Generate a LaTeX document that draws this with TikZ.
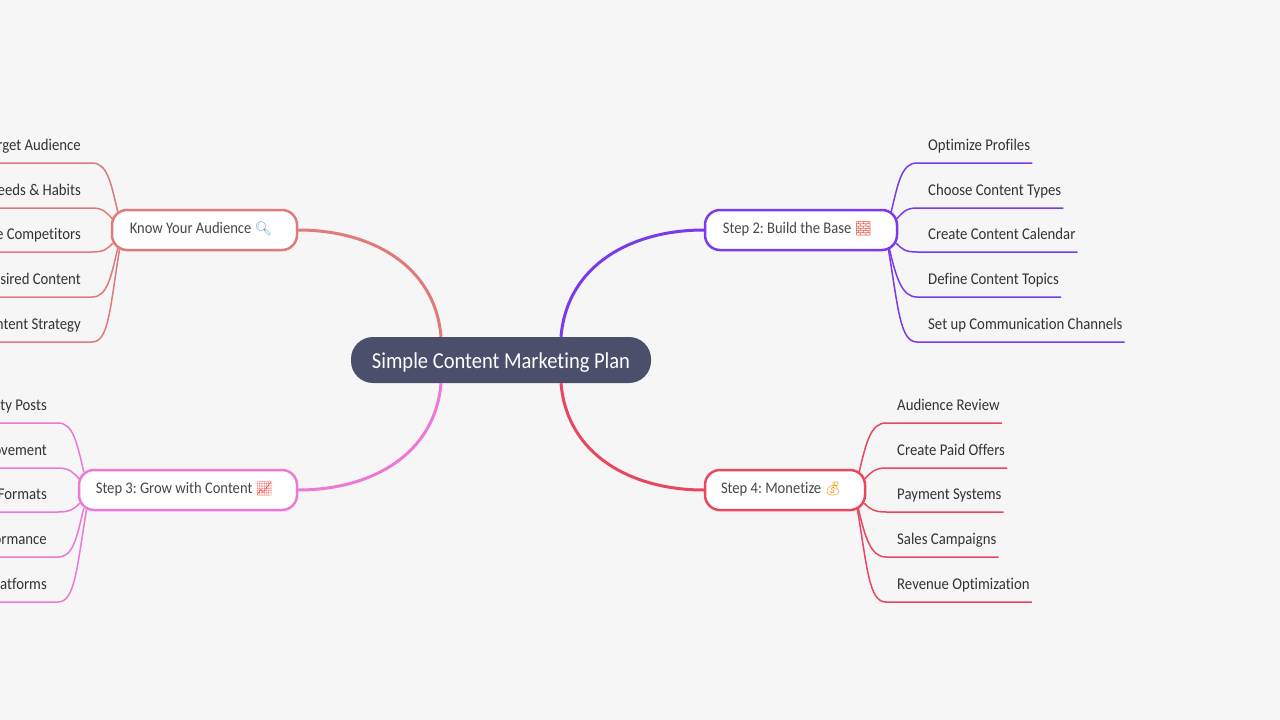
\documentclass[tikz,border=0pt]{standalone}
\usepackage{fontspec}
\setmainfont[FakeStretch=0.9,Ligatures=NoCommon]{Carlito}
\newfontfamily\emojifont[Scale=0.85]{Noto Emoji}
\usetikzlibrary{calc}
\definecolor{pagebg}{HTML}{F6F6F6}
\definecolor{rootfill}{HTML}{4C4F6B}
\definecolor{inktext}{HTML}{333333}
\definecolor{knowcol}{HTML}{E07B7B}
\definecolor{basecol}{HTML}{7C3AED}
\definecolor{growcol}{HTML}{EE78D5}
\definecolor{moneycol}{HTML}{E8475F}
\tikzset{
  rootbox/.style={fill=rootfill, text=white, rounded corners=22pt, minimum width=300pt, minimum height=46pt,
    inner sep=0pt, text height=22pt, text depth=6pt, font=\fontsize{22.8}{26}\selectfont},
  stepbox/.style={draw, fill=white, line width=2.5pt, rounded corners=15pt, minimum height=40pt, inner sep=0pt,
    text height=14pt, text depth=7pt, text=inktext!90, font=\fontsize{16.2}{20}\selectfont\frenchspacing,
    execute at end node=\hspace*{7pt}},
  leafbase/.style={inner xsep=0pt, inner ysep=0pt, text height=13pt, text depth=12pt, text=inktext,
    font=\fontsize{16.4}{20}\selectfont},
  leafright/.style={leafbase, anchor=south west, execute at begin node=\hspace*{11pt}, execute at end node=\hspace*{2pt}},
  leafleft/.style={leafbase, anchor=south east, execute at end node=\hspace*{11pt}},
  trunk/.style={line width=3pt},
  twig/.style={line width=1.5pt}
}
\begin{document}
\begin{tikzpicture}[x=1pt,y=-1pt]
\fill[pagebg] (0,0) rectangle (1280,720);
\useasboundingbox (0,0) rectangle (1280,720);
\coordinate (pageleft) at (0,0);

\node[rootbox] (root) at (501,360) {Simple Content Marketing Plan};

% first branch, upper left
\node[stepbox, draw=knowcol, minimum width=185pt] (know) at (204.5,230) {Know Your Audience {\emojifont\textcolor{cyan!50!gray}{🔍}}};
\node[leafleft] (know1) at (92,163) {rget Audience};
\node[leafleft] (know2) at (92,208) {eeds \& Habits};
\node[leafleft] (know3) at (92,252) {e Competitors};
\node[leafleft] (know4) at (92,297) {sired Content};
\node[leafleft] (know5) at (92,342) {ntent Strategy};
\draw[trunk, knowcol] ([xshift=-60pt]root.north) .. controls +(-6,-72) and +(72,0) .. (know.east);
\begin{scope}[twig, knowcol]
\draw ([xshift=7pt,yshift=-3pt]know.north west) .. controls +(-7,-30) and +(15,0) .. (know1.south east) -- (know1.south east -| pageleft);
\draw ([xshift=2pt,yshift=32pt]know.south west) .. controls +(-6,-6) and +(12,0) .. (know2.south east) -- (know2.south east -| pageleft);
\draw ([xshift=2pt,yshift=8pt]know.south west) .. controls +(-6,6) and +(12,0) .. (know3.south east) -- (know3.south east -| pageleft);
\draw ([xshift=7pt,yshift=3pt]know.south west) .. controls +(-7,30) and +(15,0) .. (know4.south east) -- (know4.south east -| pageleft);
\draw ([xshift=9pt,yshift=3pt]know.south west) .. controls +(-10,60) and +(17,0) .. (know5.south east) -- (know5.south east -| pageleft);
\end{scope}

% second branch, upper right
\node[stepbox, draw=basecol, minimum width=192pt] (base) at (801,230) {Step 2: Build the Base {\emojifont\textcolor{red!60!brown}{🧱}}};
\node[leafright] (base1) at (917,163) {Optimize Profiles};
\node[leafright] (base2) at (917,208) {Choose Content Types};
\node[leafright] (base3) at (917,252) {Create Content Calendar};
\node[leafright] (base4) at (917,297) {Define Content Topics};
\node[leafright] (base5) at (917,342) {Set up Communication Channels};
\draw[trunk, basecol] ([xshift=60pt]root.north) .. controls +(6,-72) and +(-72,0) .. (base.west);
\begin{scope}[twig, basecol]
\draw ([xshift=-7pt,yshift=-3pt]base.north east) .. controls +(7,-30) and +(-15,0) .. (base1.south west) -- (base1.south east);
\draw ([xshift=-2pt,yshift=32pt]base.south east) .. controls +(6,-6) and +(-12,0) .. (base2.south west) -- (base2.south east);
\draw ([xshift=-2pt,yshift=8pt]base.south east) .. controls +(6,6) and +(-12,0) .. (base3.south west) -- (base3.south east);
\draw ([xshift=-9pt,yshift=3pt]base.south east) .. controls +(7,30) and +(-15,0) .. (base4.south west) -- (base4.south east);
\draw ([xshift=-10pt,yshift=3pt]base.south east) .. controls +(10,60) and +(-17,0) .. (base5.south west) -- (base5.south east);
\end{scope}

% third branch, lower left
\node[stepbox, draw=growcol, minimum width=218pt] (grow) at (188,490) {Step 3: Grow with Content {\emojifont\textcolor{red!70!white}{📈}}};
\node[leafleft] (grow1) at (58,423) {ity Posts};
\node[leafleft] (grow2) at (58,468) {ovement};
\node[leafleft] (grow3) at (58,512) {Formats};
\node[leafleft] (grow4) at (58,557) {ormance};
\node[leafleft] (grow5) at (58,602) {atforms};
\draw[trunk, growcol] ([xshift=-60pt]root.south) .. controls +(-6,72) and +(72,0) .. (grow.east);
\begin{scope}[twig, growcol]
\draw ([xshift=6pt,yshift=-3pt]grow.north west) .. controls +(-7,-30) and +(15,0) .. (grow1.south east) -- (grow1.south east -| pageleft);
\draw ([xshift=2pt,yshift=32pt]grow.south west) .. controls +(-6,-6) and +(12,0) .. (grow2.south east) -- (grow2.south east -| pageleft);
\draw ([xshift=2pt,yshift=8pt]grow.south west) .. controls +(-6,6) and +(12,0) .. (grow3.south east) -- (grow3.south east -| pageleft);
\draw ([xshift=6pt,yshift=3pt]grow.south west) .. controls +(-7,30) and +(15,0) .. (grow4.south east) -- (grow4.south east -| pageleft);
\draw ([xshift=9pt,yshift=3pt]grow.south west) .. controls +(-10,60) and +(17,0) .. (grow5.south east) -- (grow5.south east -| pageleft);
\end{scope}

% fourth branch, lower right
\node[stepbox, draw=moneycol, minimum width=160pt] (money) at (785,490) {Step 4: Monetize {\emojifont\textcolor{orange!90!yellow}{💰}}};
\node[leafright] (money1) at (886,423) {Audience Review};
\node[leafright] (money2) at (886,468) {Create Paid Offers};
\node[leafright] (money3) at (886,512) {Payment Systems};
\node[leafright] (money4) at (886,557) {Sales Campaigns};
\node[leafright] (money5) at (886,602) {Revenue Optimization};
\draw[trunk, moneycol] ([xshift=60pt]root.south) .. controls +(6,72) and +(-72,0) .. (money.west);
\begin{scope}[twig, moneycol]
\draw ([xshift=-7pt,yshift=-3pt]money.north east) .. controls +(7,-30) and +(-15,0) .. (money1.south west) -- (money1.south east);
\draw ([xshift=-2pt,yshift=32pt]money.south east) .. controls +(6,-6) and +(-12,0) .. (money2.south west) -- (money2.south east);
\draw ([xshift=-2pt,yshift=8pt]money.south east) .. controls +(6,6) and +(-12,0) .. (money3.south west) -- (money3.south east);
\draw ([xshift=-8pt,yshift=3pt]money.south east) .. controls +(7,30) and +(-15,0) .. (money4.south west) -- (money4.south east);
\draw ([xshift=-9pt,yshift=3pt]money.south east) .. controls +(10,60) and +(-17,0) .. (money5.south west) -- (money5.south east);
\end{scope}
\end{tikzpicture}
\end{document}
